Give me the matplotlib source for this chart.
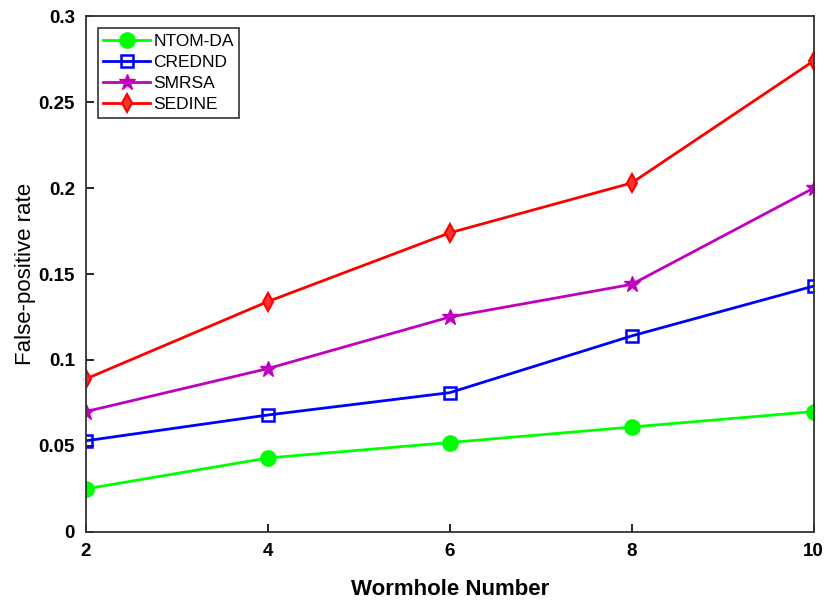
import matplotlib
matplotlib.use("Agg")
import matplotlib.pyplot as plt

x = [2, 4, 6, 8, 10]
ntom_da = [0.025, 0.043, 0.052, 0.061, 0.070]
crednd = [0.053, 0.068, 0.081, 0.114, 0.143]
smrsa = [0.070, 0.095, 0.125, 0.144, 0.200]
sedine = [0.089, 0.134, 0.174, 0.203, 0.274]

plt.rcParams['font.family'] = ['Liberation Sans', 'DejaVu Sans']
fig = plt.figure(figsize=(8.26, 6.01), dpi=100)
ax = fig.add_axes([0.104, 0.115, 0.881, 0.858])

ax.plot(x, ntom_da, color='#00ff00', lw=2, marker='o', ms=11, label='NTOM-DA')
ax.plot(x, crednd, color='#0000ff', lw=2, marker='s', ms=8, mfc='none', mew=1.8, label='CREDND')
ax.plot(x, smrsa, color='#bf00bf', lw=2, marker='*', ms=12, label='SMRSA')
ax.plot(x, sedine, color='#ff0000', lw=2, marker='d', ms=9, mfc='#ff3030', mew=1.5, label='SEDINE')

ax.set_xlim(2, 10)
ax.set_ylim(0, 0.3)
ax.set_xticks([2, 4, 6, 8, 10])
ax.set_yticks([0, 0.05, 0.1, 0.15, 0.2, 0.25, 0.3])
ax.set_yticklabels(['0', '0.05', '0.1', '0.15', '0.2', '0.25', '0.3'])
ax.tick_params(direction='in', length=6, width=1.2, labelsize=13.5, pad=8)
for lab in ax.get_xticklabels() + ax.get_yticklabels():
    lab.set_fontweight('bold')
for s in ax.spines.values():
    s.set_linewidth(1.3)
    s.set_color('#333333')

ax.set_xlabel('Wormhole Number', fontsize=16, fontweight='bold', labelpad=14)
ax.set_ylabel('False-positive rate', fontsize=16, labelpad=2)

leg = ax.legend(loc='upper left', fontsize=12.5, frameon=True, fancybox=False,
                edgecolor='black', borderpad=0.3, labelspacing=0.35,
                handlelength=2.7, handletextpad=0.2, borderaxespad=0.7)
leg.get_frame().set_linewidth(1.2)

fig.savefig('out.png', dpi=100)
